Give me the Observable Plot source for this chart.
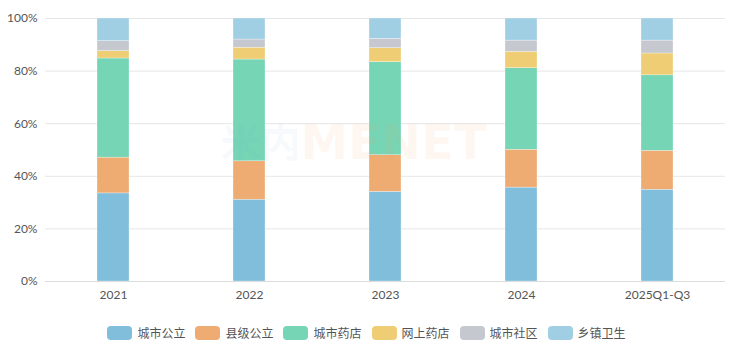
<!DOCTYPE html>
<html>
<head>
<meta charset="utf-8">
<script src="https://cdn.jsdelivr.net/npm/d3@7"></script>
<script src="https://cdn.jsdelivr.net/npm/@observablehq/plot@0.6"></script>
<style>
  html, body { margin: 0; padding: 0; background: #fff; }
  body { width: 731px; height: 351px; overflow: hidden; font-family: Lato, "Noto Sans CJK SC", sans-serif; }
  #legend { display: flex; justify-content: center; align-items: center; padding-top: 19px; padding-left: 2px; font-size: 12px; color: #555; font-family: "Noto Sans CJK SC", sans-serif; }
  .item { display: flex; align-items: center; margin: 0 5px; }
  .sw { width: 25px; height: 14px; border-radius: 4px; margin-right: 5px; }
</style>
</head>
<body>
<div id="chart"></div>
<div id="legend"></div>
<script>
const years = ["2021", "2022", "2023", "2024", "2025Q1-Q3"];
const seriesNames = ["城市公立", "县级公立", "城市药店", "网上药店", "城市社区", "乡镇卫生"];
const colors = ["#80bedc", "#eeab72", "#75d5b4", "#eecd74", "#c5c9cf", "#a0cfe4"];
const cityPublic   = [33.5, 31.1, 34.1, 35.7, 34.9];
const countyPublic = [13.6, 14.6, 13.9, 14.4, 14.8];
const cityPharmacy = [37.7, 38.7, 35.4, 31.0, 28.7];
const onlinePharm  = [2.8, 4.5, 5.3, 6.2, 8.3];
const cityCommunity= [3.8, 3.1, 3.6, 4.3, 4.9];
const townHealth   = [8.6, 8.0, 7.7, 8.4, 8.4];
const yTicks = [0, 20, 40, 60, 80, 100];

const seriesValues = [cityPublic, countyPublic, cityPharmacy, onlinePharm, cityCommunity, townHealth];
const data = [];
seriesNames.forEach((s, i) => years.forEach((y, j) => data.push({year: y, type: s, value: seriesValues[i][j]})));

const chart = Plot.plot({
  width: 731,
  height: 305,
  marginTop: 18,
  marginBottom: 24,
  marginLeft: 45,
  marginRight: 6,
  style: { fontFamily: "Lato, 'Noto Sans CJK SC', sans-serif", fontSize: "12px", color: "#555" },
  x: { domain: years, paddingInner: 0.765, paddingOuter: 0.3825, label: null, tickSize: 0, tickPadding: 9 },
  y: { domain: [0, 100], ticks: yTicks, tickFormat: d => d + "%", label: null, tickSize: 0, tickPadding: 8 },
  color: { domain: seriesNames, range: colors },
  marks: [
    Plot.gridY(yTicks, { stroke: "#e6e6e6", strokeOpacity: 1 }),
    Plot.barY(data, { x: "year", y: "value", fill: "type", stroke: "#fff", strokeWidth: 0.5, strokeOpacity: 0.6 }),
    Plot.text(["MENET"], { frameAnchor: "middle", dx: 8, dy: -6, fontSize: 48, fontWeight: 900, fontFamily: "'DejaVu Sans', sans-serif", fill: "#f6a46a", fillOpacity: 0.09 }),
    Plot.text(["米内"], { frameAnchor: "middle", dx: -125, dy: -6, fontSize: 40, fontWeight: "bold", fontFamily: "'Noto Sans CJK SC', sans-serif", fill: "#6fb1d6", fillOpacity: 0.08 }),
    Plot.ruleY([0], { stroke: "#dcdcdc" })
  ]
});
document.getElementById("chart").appendChild(chart);

const legend = document.getElementById("legend");
seriesNames.forEach((s, i) => {
  const it = document.createElement("div");
  it.className = "item";
  it.innerHTML = `<div class="sw" style="background:${colors[i]}"></div><span>${s}</span>`;
  legend.appendChild(it);
});
</script>
</body>
</html>
